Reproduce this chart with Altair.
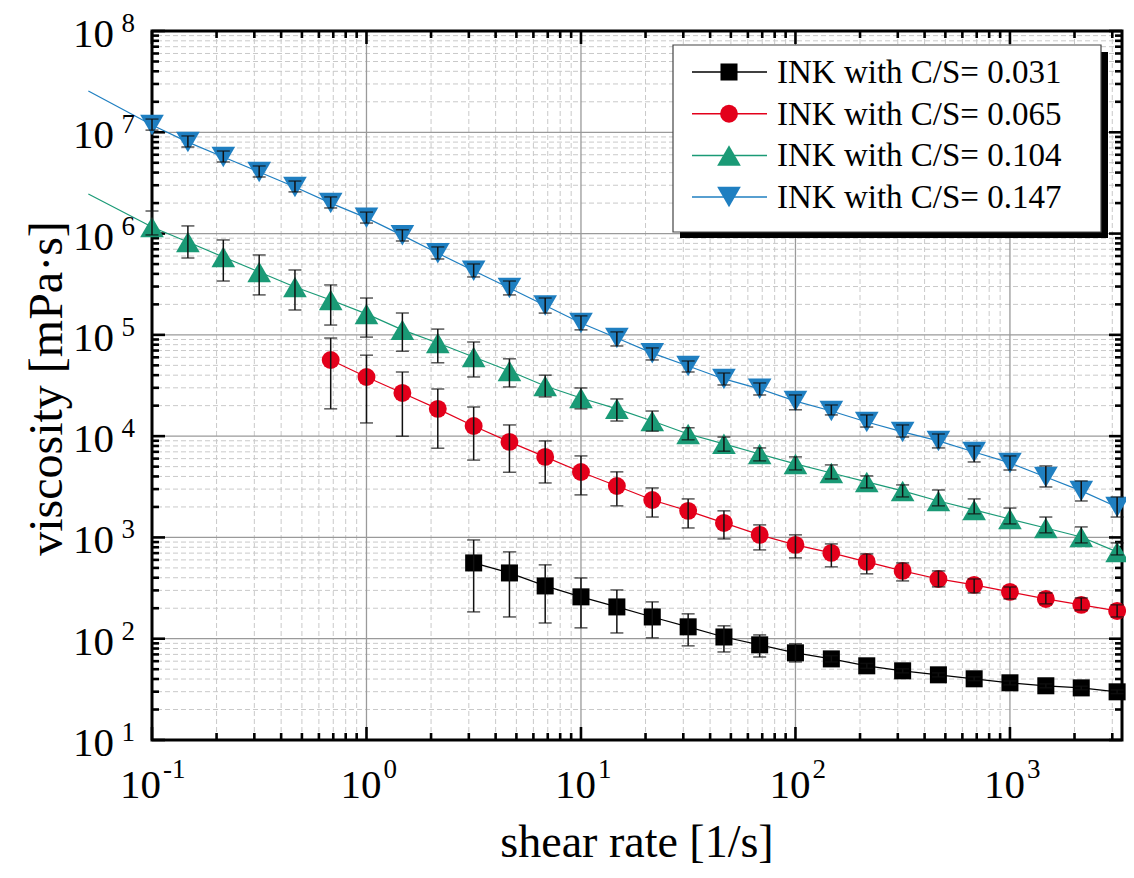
import altair as alt
import pandas as pd

# ---------------- data ----------------
shear_rate = [0.1, 0.147, 0.215, 0.316, 0.464, 0.681, 1.0, 1.47, 2.15, 3.16, 4.64, 6.81,
              10, 14.7, 21.5, 31.6, 46.4, 68.1, 100, 147, 215, 316, 464, 681,
              1000, 1470, 2150, 3160]

# C/S = 0.031 (starts at shear_rate[9])
visc_031 = [560, 446, 332, 259, 206, 164, 131, 104, 87, 72.5, 63.2, 54, 48.2, 44, 40.2,
            36.7, 34.3, 32.7, 29.9]
hi_031 = [944, 720, 536, 398, 303, 231, 176, 134, 109, 89, 68, 57, 50.5, 46, 42, 38.3,
          35.8, 34, 31.2]
lo_031 = [184, 164, 143, 128, 114, 102, 85, 74, 66, 59, 59, 51, 46, 42, 38.5, 35, 32.8,
          31.3, 28.7]

# C/S = 0.065 (starts at shear_rate[5])
visc_065 = [56500, 38400, 26700, 18600, 12600, 8770, 6240, 4430, 3220, 2340, 1830, 1390,
            1060, 844, 703, 573, 467, 389, 340, 290, 247, 216, 188]
hi_065 = [93000, 63000, 43000, 29200, 19400, 12900, 8970, 6380, 4440, 3080, 2400, 1830,
          1330, 1060, 863, 687, 560, 467, 389, 324, 283, 253, 216]
lo_065 = [18600, 13500, 10000, 7600, 5800, 4400, 3450, 2630, 2050, 1590, 1240, 967, 753,
          628, 512, 437, 372, 325, 283, 247, 221, 192, 164]

# C/S = 0.104 (starts at shear_rate[0])
visc_104 = [1.16e6, 8.26e5, 5.87e5, 4.18e5, 2.97e5, 2.21e5, 1.61e5, 1.12e5, 8.3e4, 6.05e4,
            4.4e4, 3.13e4, 2.38e4, 1.86e4, 1.41e4, 1.05e4, 8400, 6670, 5320, 4330, 3530,
            2880, 2290, 1870, 1520, 1240, 1010, 720]
hi_104 = [1.67e6, 1.19e6, 8.65e5, 6.15e5, 4.37e5, 3.11e5, 2.31e5, 1.64e5, 1.14e5, 8.5e4,
          5.8e4, 4.0e4, 2.99e4, 2.33e4, 1.77e4, 1.21e4, 9800, 7650, 6240, 5200, 4050, 3300,
          2940, 2400, 1950, 1590, 1270, 883]
lo_104 = [9.7e5, 5.74e5, 3.4e5, 2.48e5, 1.76e5, 1.25e5, 9.5e4, 6.9e4, 5.3e4, 3.84e4, 3.06e4,
          2.44e4, 1.86e4, 1.41e4, 1.12e4, 9200, 7100, 5700, 4640, 3780, 3080, 2510, 2050,
          1710, 1360, 1110, 883, 672]

# C/S = 0.147 (starts at shear_rate[0])
visc_147 = [1.18e7, 8.0e6, 5.7e6, 4.06e6, 2.88e6, 2.0e6, 1.43e6, 9.6e5, 6.4e5, 4.3e5, 2.9e5,
            1.95e5, 1.31e5, 9.3e4, 6.6e4, 4.93e4, 3.67e4, 2.93e4, 2.22e4, 1.77e4, 1.38e4,
            1.10e4, 8970, 6980, 5440, 3950, 2880, 2000]
hi_147 = [1.35e7, 9.2e6, 6.53e6, 4.65e6, 3.3e6, 2.3e6, 1.63e6, 1.09e6, 7.38e5, 5.01e5, 3.4e5,
          2.31e5, 1.54e5, 1.07e5, 7.43e4, 5.52e4, 4.2e4, 3.35e4, 2.55e4, 2.03e4, 1.62e4,
          1.29e4, 1.05e4, 8000, 6380, 5080, 3610, 2510]
lo_147 = [1.05e7, 7.16e6, 5.09e6, 3.62e6, 2.58e6, 1.79e6, 1.27e6, 8.45e5, 5.61e5, 3.73e5,
          2.48e5, 1.64e5, 1.12e5, 7.77e4, 5.65e4, 4.3e4, 3.2e4, 2.55e4, 1.82e4, 1.62e4,
          1.23e4, 9800, 7650, 5560, 4630, 3150, 2290, 1590]

# fitted lines of the two upper series continue to the left of the frame
fit_start_rate = 0.0505
fit_start_104 = 2.46e6
fit_start_147 = 2.56e7

series_names = ["INK with C/S= 0.031", "INK with C/S= 0.065",
                "INK with C/S= 0.104", "INK with C/S= 0.147"]
series_start = [9, 5, 0, 0]
series_colors = ["#000000", "#e3001b", "#1a9a76", "#1f7fc1"]
series_shapes = ["square", "circle", "triangle-up", "triangle-down"]
series_sizes = [290, 320, 560, 560]

x_decades = [0.1, 1, 10, 100, 1000]
x_exponents = ["-1", "0", "1", "2", "3"]
y_decades = [1e1, 1e2, 1e3, 1e4, 1e5, 1e6, 1e7, 1e8]
y_exponents = ["1", "2", "3", "4", "5", "6", "7", "8"]

x_title = "shear rate [1/s]"
y_title = "viscosity [mPa·s]"

# ---------------- tables ----------------
values = [visc_031, visc_065, visc_104, visc_147]
his = [hi_031, hi_065, hi_104, hi_147]
los = [lo_031, lo_065, lo_104, lo_147]
rows = []
for name, start, v, h, l in zip(series_names, series_start, values, his, los):
    for i, (vv, hh, ll) in enumerate(zip(v, h, l)):
        rows.append({"series": name, "rate": shear_rate[start + i], "visc": vv,
                     "hi": hh, "lo": ll})
df = pd.DataFrame(rows)

line_df = pd.concat([
    df[["series", "rate", "visc"]],
    pd.DataFrame({"series": [series_names[2], series_names[3]],
                  "rate": [fit_start_rate, fit_start_rate],
                  "visc": [fit_start_104, fit_start_147]}),
], ignore_index=True)

W, H = 970, 709
FONT = "Liberation Serif"

xs = alt.Scale(type="log", domain=[0.1, 3330], nice=False)
ys = alt.Scale(type="log", domain=[10, 1e8], nice=False)
cs = alt.Scale(domain=series_names, range=series_colors)

X = lambda f: alt.X(f, scale=xs, axis=None)
Y = lambda f: alt.Y(f, scale=ys, axis=None)

minor_x = [m * d for d in x_decades for m in range(2, 10) if m * d < 3330]
minor_y = [m * d for d in y_decades[:-1] for m in range(2, 10)]

layers = []
# grid
layers.append(alt.Chart(pd.DataFrame({"v": minor_x})).mark_rule(
    color="#c9c9c9", strokeDash=[5, 3], strokeWidth=1).encode(x=X("v:Q")))
layers.append(alt.Chart(pd.DataFrame({"v": minor_y})).mark_rule(
    color="#c9c9c9", strokeDash=[5, 3], strokeWidth=1).encode(y=Y("v:Q")))
layers.append(alt.Chart(pd.DataFrame({"v": x_decades[1:]})).mark_rule(
    color="#9a9a9a", strokeWidth=1.3).encode(x=X("v:Q")))
layers.append(alt.Chart(pd.DataFrame({"v": y_decades[1:-1]})).mark_rule(
    color="#9a9a9a", strokeWidth=1.3).encode(y=Y("v:Q")))

# frame
layers.append(alt.Chart(pd.DataFrame({"a": [0]})).mark_rect(
    fillOpacity=0, stroke="black", strokeWidth=3).encode(
    x=alt.value(0), x2=alt.value(W), y=alt.value(0), y2=alt.value(H)))

# inward ticks on all four sides
for vals, ln in ((x_decades, 13), (minor_x, 7)):
    d = pd.DataFrame({"v": vals})
    layers.append(alt.Chart(d).mark_rule(color="black", strokeWidth=2.6).encode(
        x=X("v:Q"), y=alt.value(H), y2=alt.value(H - ln)))
    layers.append(alt.Chart(d).mark_rule(color="black", strokeWidth=2.6).encode(
        x=X("v:Q"), y=alt.value(0), y2=alt.value(ln)))
for vals, ln in ((y_decades, 13), (minor_y, 7)):
    d = pd.DataFrame({"v": vals})
    layers.append(alt.Chart(d).mark_rule(color="black", strokeWidth=2.6).encode(
        y=Y("v:Q"), x=alt.value(0), x2=alt.value(ln)))
    layers.append(alt.Chart(d).mark_rule(color="black", strokeWidth=2.6).encode(
        y=Y("v:Q"), x=alt.value(W), x2=alt.value(W - ln)))

# data lines
layers.append(alt.Chart(line_df).mark_line(strokeWidth=1.2).encode(
    x=X("rate:Q"), y=Y("visc:Q"),
    color=alt.Color("series:N", scale=cs, legend=None)))
# markers, one layer per series
for name, col, sh, sz in zip(series_names, series_colors, series_shapes, series_sizes):
    layers.append(alt.Chart(df[df["series"] == name]).mark_point(
        filled=True, opacity=1, shape=sh, size=sz, color=col).encode(
        x=X("rate:Q"), y=Y("visc:Q")))
# error bars
layers.append(alt.Chart(df).mark_rule(color="#111111", strokeWidth=1.5).encode(
    x=X("rate:Q"), y=Y("hi:Q"), y2="lo:Q"))
for f in ("hi:Q", "lo:Q"):
    layers.append(alt.Chart(df).mark_tick(
        orient="horizontal", size=13, thickness=1.5, color="#111111").encode(
        x=X("rate:Q"), y=Y(f)))

# legend
LX0, LY0, LX1, LY1 = 521, 14, 949, 201
layers.append(alt.Chart(pd.DataFrame({"a": [0]})).mark_rect(color="black").encode(
    x=alt.value(LX0 + 7), x2=alt.value(LX1 + 7), y=alt.value(LY0 + 7), y2=alt.value(LY1 + 6)))
layers.append(alt.Chart(pd.DataFrame({"a": [0]})).mark_rect(
    fill="white", stroke="#444444", strokeWidth=1.2).encode(
    x=alt.value(LX0), x2=alt.value(LX1), y=alt.value(LY0), y2=alt.value(LY1)))
for i, (name, col, sh, sz) in enumerate(zip(series_names, series_colors,
                                            series_shapes, series_sizes)):
    yc = 41 + i * 41.7
    d = pd.DataFrame({"series": [name]})
    layers.append(alt.Chart(d).mark_rule(strokeWidth=1.5, color=col).encode(
        x=alt.value(540), x2=alt.value(615), y=alt.value(yc)))
    layers.append(alt.Chart(d).mark_point(
        filled=True, opacity=1, shape=sh, size=sz, color=col).encode(
        x=alt.value(577), y=alt.value(yc)))
    layers.append(alt.Chart(d).mark_text(
        align="left", baseline="alphabetic", font=FONT, fontSize=33, color="black").encode(
        x=alt.value(625), y=alt.value(yc + 11), text="series:N"))

# tick labels with superscript exponents
for dec, ex in zip(x_decades, x_exponents):
    d = pd.DataFrame({"v": [dec], "base": ["10"], "exp": [ex]})
    off = 9 if len(ex) > 1 else 15
    layers.append(alt.Chart(d).mark_text(
        align="right", baseline="alphabetic", dx=off, font=FONT, fontSize=41,
        color="black").encode(x=X("v:Q"), y=alt.value(H + 58), text="base:N"))
    layers.append(alt.Chart(d).mark_text(
        align="left", baseline="alphabetic", dx=off + 2, font=FONT, fontSize=27,
        color="black").encode(x=X("v:Q"), y=alt.value(H + 38), text="exp:N"))
for dec, ex in zip(y_decades, y_exponents):
    d = pd.DataFrame({"v": [dec], "base": ["10"], "exp": [ex]})
    layers.append(alt.Chart(d).mark_text(
        align="right", baseline="alphabetic", dy=16, font=FONT, fontSize=41,
        color="black").encode(y=Y("v:Q"), x=alt.value(-38), text="base:N"))
    layers.append(alt.Chart(d).mark_text(
        align="right", baseline="alphabetic", dy=1, font=FONT, fontSize=27,
        color="black").encode(y=Y("v:Q"), x=alt.value(-17), text="exp:N"))

# axis titles
layers.append(alt.Chart(pd.DataFrame({"t": [x_title]})).mark_text(
    align="center", baseline="alphabetic", font=FONT, fontSize=46, color="black").encode(
    x=alt.value(W / 2), y=alt.value(H + 117), text="t:N"))
layers.append(alt.Chart(pd.DataFrame({"t": [y_title]})).mark_text(
    align="center", baseline="alphabetic", angle=270, font=FONT, fontSize=48,
    color="black").encode(
    x=alt.value(-90), y=alt.value(H / 2 + 3), text="t:N"))

chart = alt.layer(*layers).properties(
    width=W, height=H,
    autosize=alt.AutoSizeParams(type="none"),
    padding={"left": 144, "top": 23, "right": 4, "bottom": 128},
    background="white",
).configure_view(strokeWidth=0)

chart.save("out.html", embed_options={"renderer": "svg", "actions": False})
